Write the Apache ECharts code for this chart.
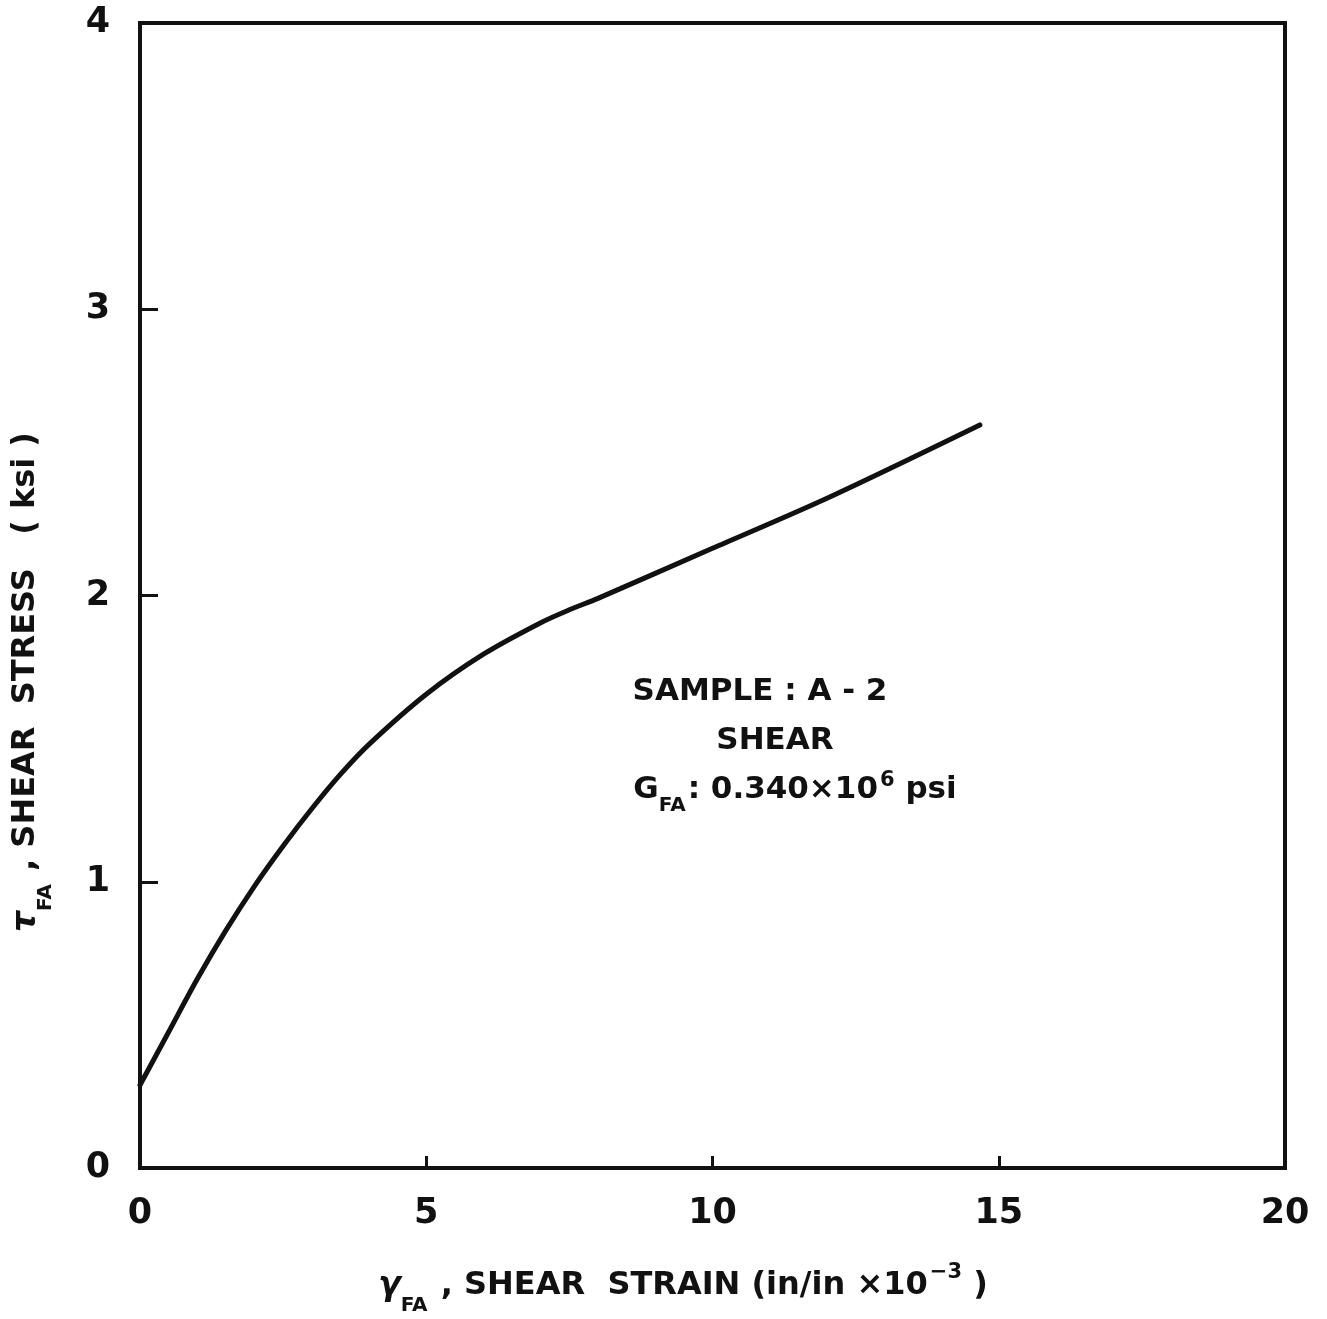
<!DOCTYPE html>
<html>
<head>
<meta charset="utf-8">
<title>Shear stress vs shear strain</title>
<script src="https://cdn.jsdelivr.net/npm/echarts@6/dist/echarts.min.js"></script>
<style>
  html, body { margin: 0; padding: 0; background: #fff; }
  #chart { width: 1327px; height: 1319px; }
</style>
</head>
<body>
<div id="chart"></div>
<script>
// Shear strain (in/in x 10^-3)
const strain = [0.0, 0.5, 1.0, 1.5, 2.0, 2.5, 3.0, 3.5, 4.0, 5.0, 6.0, 7.0, 7.5, 8.0, 10.0, 12.0, 14.67];
// Shear stress (ksi)
const stress = [0.29, 0.475, 0.66, 0.83, 0.985, 1.125, 1.255, 1.375, 1.48, 1.655, 1.795, 1.905, 1.95, 1.99, 2.165, 2.34, 2.596];

const xTicks = [0, 5, 10, 15, 20];
const yTicks = [0, 1, 2, 3, 4];

const FONT = '"DejaVu Sans", "Liberation Sans", sans-serif';
const INK = '#111';

const chart = echarts.init(document.getElementById('chart'), null, { renderer: 'canvas' });

const baseText = { fontFamily: FONT, fontWeight: 'bold', color: INK };
const subStyle = { ...baseText, fontSize: 20, lineHeight: 20, verticalAlign: 'bottom', padding: [0, 2, -10, 0] };
const supStyle = { ...baseText, fontSize: 21, lineHeight: 21, verticalAlign: 'top', padding: [-4, 0, 0, 2] };

chart.setOption({
  backgroundColor: '#ffffff',
  animation: false,
  grid: {
    left: 140, right: 42, top: 23, bottom: 151,
    show: true, borderColor: INK, borderWidth: 4, backgroundColor: 'transparent'
  },
  xAxis: {
    type: 'value', min: 0, max: 20, interval: 5,
    axisLine: { show: true, lineStyle: { color: INK, width: 4 } },
    axisTick: { show: true, inside: true, length: 12, lineStyle: { color: INK, width: 3 } },
    splitLine: { show: false },
    axisLabel: {
      ...baseText, fontSize: 35, margin: 28,
      formatter: v => xTicks.includes(v) ? String(v) : ''
    }
  },
  yAxis: {
    type: 'value', min: 0, max: 4, interval: 1,
    axisLine: { show: true, lineStyle: { color: INK, width: 4 } },
    axisTick: { show: true, inside: true, length: 18, lineStyle: { color: INK, width: 3 } },
    splitLine: { show: false },
    axisLabel: {
      ...baseText, fontSize: 35, margin: 30,
      formatter: v => yTicks.includes(v) ? String(v) : ''
    }
  },
  series: [{
    type: 'line',
    data: strain.map((x, i) => [x, stress[i]]),
    smooth: 0.3,
    showSymbol: false,
    lineStyle: { color: INK, width: 5, cap: 'round' }
  }],
  graphic: [
    {
      // horizontal axis title
      type: 'text', x: 683, y: 1286,
      style: {
        text: '{g|γ}{s|FA} , SHEAR  STRAIN (in/in ×10{p|−3} )',
        align: 'center', verticalAlign: 'middle',
        rich: {
          g: { ...baseText, fontSize: 33, fontStyle: 'italic', lineHeight: 40, verticalAlign: 'middle' },
          s: subStyle,
          p: supStyle
        },
        font: 'bold 32px ' + FONT,
        fill: INK
      }
    },
    {
      // vertical axis title
      type: 'text', x: 26, y: 682, rotation: Math.PI / 2,
      style: {
        text: '{t|τ}{s|FA} , SHEAR  STRESS   ( ksi )',
        align: 'center', verticalAlign: 'middle',
        rich: {
          t: { ...baseText, fontSize: 33, fontStyle: 'italic', lineHeight: 40, verticalAlign: 'middle' },
          s: subStyle
        },
        font: 'bold 32px ' + FONT,
        fill: INK
      }
    },
    {
      type: 'text', x: 760, y: 692,
      style: { text: 'SAMPLE : A - 2', align: 'center', verticalAlign: 'middle', font: 'bold 31px ' + FONT, fill: INK }
    },
    {
      type: 'text', x: 775, y: 741,
      style: { text: 'SHEAR', align: 'center', verticalAlign: 'middle', font: 'bold 31px ' + FONT, fill: INK }
    },
    {
      type: 'text', x: 795, y: 790,
      style: {
        text: 'G{s|FA}: 0.340×10{p|6} psi',
        align: 'center', verticalAlign: 'middle',
        font: 'bold 31px ' + FONT, fill: INK,
        rich: { s: subStyle, p: supStyle }
      }
    }
  ]
});
</script>
</body>
</html>
